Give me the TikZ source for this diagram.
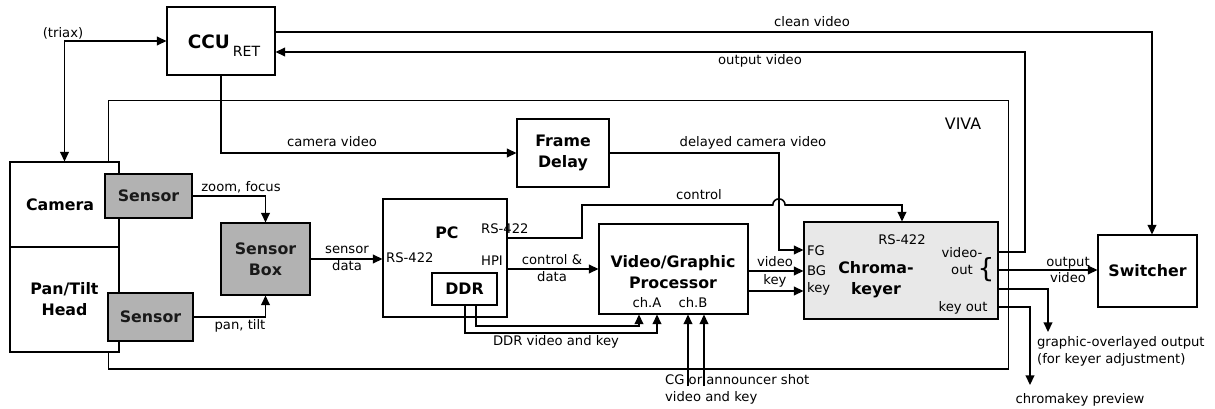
\documentclass[tikz,border=0pt]{standalone}
\usepackage{fontspec}
\setmainfont{DejaVu Sans}
\usepackage{tikz}
\usetikzlibrary{arrows.meta,calc,positioning}
\newcommand{\lblfont}{\fontsize{7.5}{9.6}\selectfont}
\newcommand{\boxfont}{\fontsize{9}{12}\selectfont\bfseries}

\begin{document}
\begin{tikzpicture}[x=0.02cm,y=-0.02cm,
    >={Triangle[length=5.5pt,width=5pt]},
    frame/.style={draw, line width=0.6pt, inner sep=0pt},
    box/.style={draw, line width=0.6pt, fill=white, inner sep=0pt, font=\boxfont, align=center},
    sensbox/.style={box, fill=gray!60, text=black!90},
    keybox/.style={box, fill=gray!18},
    lbl/.style={font=\lblfont, inner sep=1pt, align=center},
    blbl/.style={font=\boxfont, inner sep=1pt, align=center},
    sig/.style={line width=0.9pt}]
        \useasboundingbox (0,0) rectangle (1215,409);
        % VIVA frame
        \node[frame, minimum width=18.02cm, minimum height=5.38cm] (viva) at (558.5,234.5) {};
        \node[lbl, font=\fontsize{9}{10}\selectfont] (vivalbl) at (963,124) {VIVA};
        % boxes
        \node[box, minimum width=2.16cm, minimum height=1.36cm] (ccu) at (221,41) {};
        \node[inner sep=0pt, font=\fontsize{10.5}{12}\selectfont\bfseries] (ccutxt) at (224,46)
            {CCU\,\raisebox{-0.8ex}{\fontsize{8}{9}\selectfont\mdseries RET}};
        \node[box, minimum width=2.18cm, minimum height=1.70cm] (cam) at (64.5,204.5) {};
        \node[blbl] (camtxt) at (60,205) {Camera};
        \node[box, minimum width=2.18cm, minimum height=2.10cm] (pth) at (64.5,299.5) {Pan/Tilt\\Head};
        \node[sensbox, minimum width=1.74cm, minimum height=0.88cm] (sens1) at (148.5,196) {Sensor};
        \node[sensbox, minimum width=1.70cm, minimum height=0.96cm] (sens2) at (150.5,317) {Sensor};
        \node[sensbox, minimum width=1.78cm, minimum height=1.44cm] (sbox) at (265.5,259) {Sensor\\Box};
        \node[box, minimum width=1.84cm, minimum height=1.36cm] (fd) at (563,153) {Frame\\Delay};
        \node[box, minimum width=2.48cm, minimum height=2.36cm] (pc) at (445,258) {};
        \node[box, minimum width=1.30cm, minimum height=0.64cm] (ddr) at (464.5,289) {DDR};
        \node[box, minimum width=2.98cm, minimum height=1.80cm] (vgp) at (673.5,269) {};
        \node[keybox, minimum width=3.88cm, minimum height=1.94cm] (ck) at (901,270.5) {};
        \node[box, minimum width=1.98cm, minimum height=1.44cm] (sw) at (1147.5,271) {Switcher};
        % texts inside boxes
        \node[blbl] (pctxt) at (447,233) {PC};
        \node[lbl, anchor=west] (pcrsa) at (384,258) {RS-422};
        \node[lbl, anchor=west] (pcrsb) at (479,229) {RS-422};
        \node[lbl] (hpi) at (492,261) {HPI};
        \node[blbl] (vgptxt) at (673,272) {Video/Graphic\\Processor};
        \node[lbl] (cha) at (647,303) {ch.A};
        \node[lbl] (chb) at (693,303) {ch.B};
        \node[lbl] (ckrs) at (902,240) {RS-422};
        \node[lbl, anchor=west] (fg) at (805,251) {FG};
        \node[lbl, anchor=west] (bg) at (805,271) {BG};
        \node[lbl, anchor=west] (ckkey) at (805,289) {key};
        \node[blbl] (cktxt) at (876,280) {Chroma-\\keyer};
        \node[lbl, text height=5pt] (vout) at (962,270) {video-\\out};
        \node[inner sep=0pt, font=\fontsize{15}{15}\selectfont] (brace) at (986,270) {\{};
        \node[lbl] (keyout) at (963,308) {key out};
        % free ends
        \coordinate (cga) at (688,386);
        \coordinate (cgb) at (704,386);
        \coordinate (gout) at (1048,332);
        \coordinate (prev) at (1030,385);
        % connectors
        \draw[sig, <->] (cam.north) |- (ccu.west);
        \node[lbl] (triax) at (63,33) {(triax)};
        \draw[sig, ->] (ccu.south) |- (fd.west);
        \node[lbl] (camvid) at (332,142) {camera video};
        \draw[sig, ->] (ccu.east |- 0,32) -| (sw.north -| 1152,0);
        \node[lbl] (clean) at (812,22) {clean video};
        \draw[sig, ->] (ck.east |- 0,252) -| (1025,52) -- (ccu.east |- 0,52);
        \node[lbl] (outvid) at (760,61) {output video};
        \draw[sig, ->] (sens1.east) -| (sbox.north);
        \node[lbl] (zf) at (241,187) {zoom, focus};
        \draw[sig, ->] (sens2.east) -| (sbox.south);
        \node[lbl] (pt) at (240,326) {pan, tilt};
        \draw[sig, ->] (sbox.east) -- (pc.west |- sbox.east);
        \node[lbl] (sdata) at (347,258) {sensor\\data};
        \draw[sig, ->] (fd.east) -| (779,250) -- (ck.west |- 0,250);
        \node[lbl] (delay) at (753,143) {delayed camera video};
        \draw[sig, ->] (pc.east |- 0,238) -| (582,205) -- (772.8,205)
            arc[start angle=180, end angle=0, radius=3.5pt] -| (ck.north -| 902,0);
        \node[lbl] (ctrl) at (699,195) {control};
        \draw[sig, ->] (pc.east |- 0,269) -- (vgp.west |- 0,269);
        \node[lbl] (cdata) at (552,268) {control \&\\data};
        \draw[sig, ->] (ddr.south -| 476,0) -- (476,326) -| (vgp.south -| 639,0);
        \draw[sig, ->] (ddr.south -| 465,0) -- (465,333) -| (vgp.south -| 657,0);
        \node[lbl] (ddrlbl) at (556,342) {DDR video and key};
        \draw[sig, ->] (cga) -- (vgp.south -| cga);
        \draw[sig, ->] (cgb) -- (vgp.south -| cgb);
        \node[lbl, anchor=west, align=left] (cglbl) at (663,389) {CG or announcer shot\\video and key};
        \draw[sig, ->] (vgp.east |- 0,271) -- (ck.west |- 0,271);
        \draw[sig, ->] (vgp.east |- 0,291) -- (ck.west |- 0,291);
        \node[lbl] (vidlbl) at (775,262) {video};
        \node[lbl] (keylbl) at (775,281) {key};
        \draw[sig, ->] (ck.east |- 0,270) -- (sw.west |- 0,270);
        \node[lbl] (swlbl) at (1068,270) {output\\video};
        \draw[sig, ->] (ck.east |- 0,289) -| (gout);
        \node[lbl, anchor=west, align=left] (goutlbl) at (1035,351) {graphic-overlayed output\\(for keyer adjustment)};
        \draw[sig, ->] (ck.east |- 0,307) -| (prev);
        \node[lbl] (prevlbl) at (1080,400) {chromakey preview};
\end{tikzpicture}
\end{document}
